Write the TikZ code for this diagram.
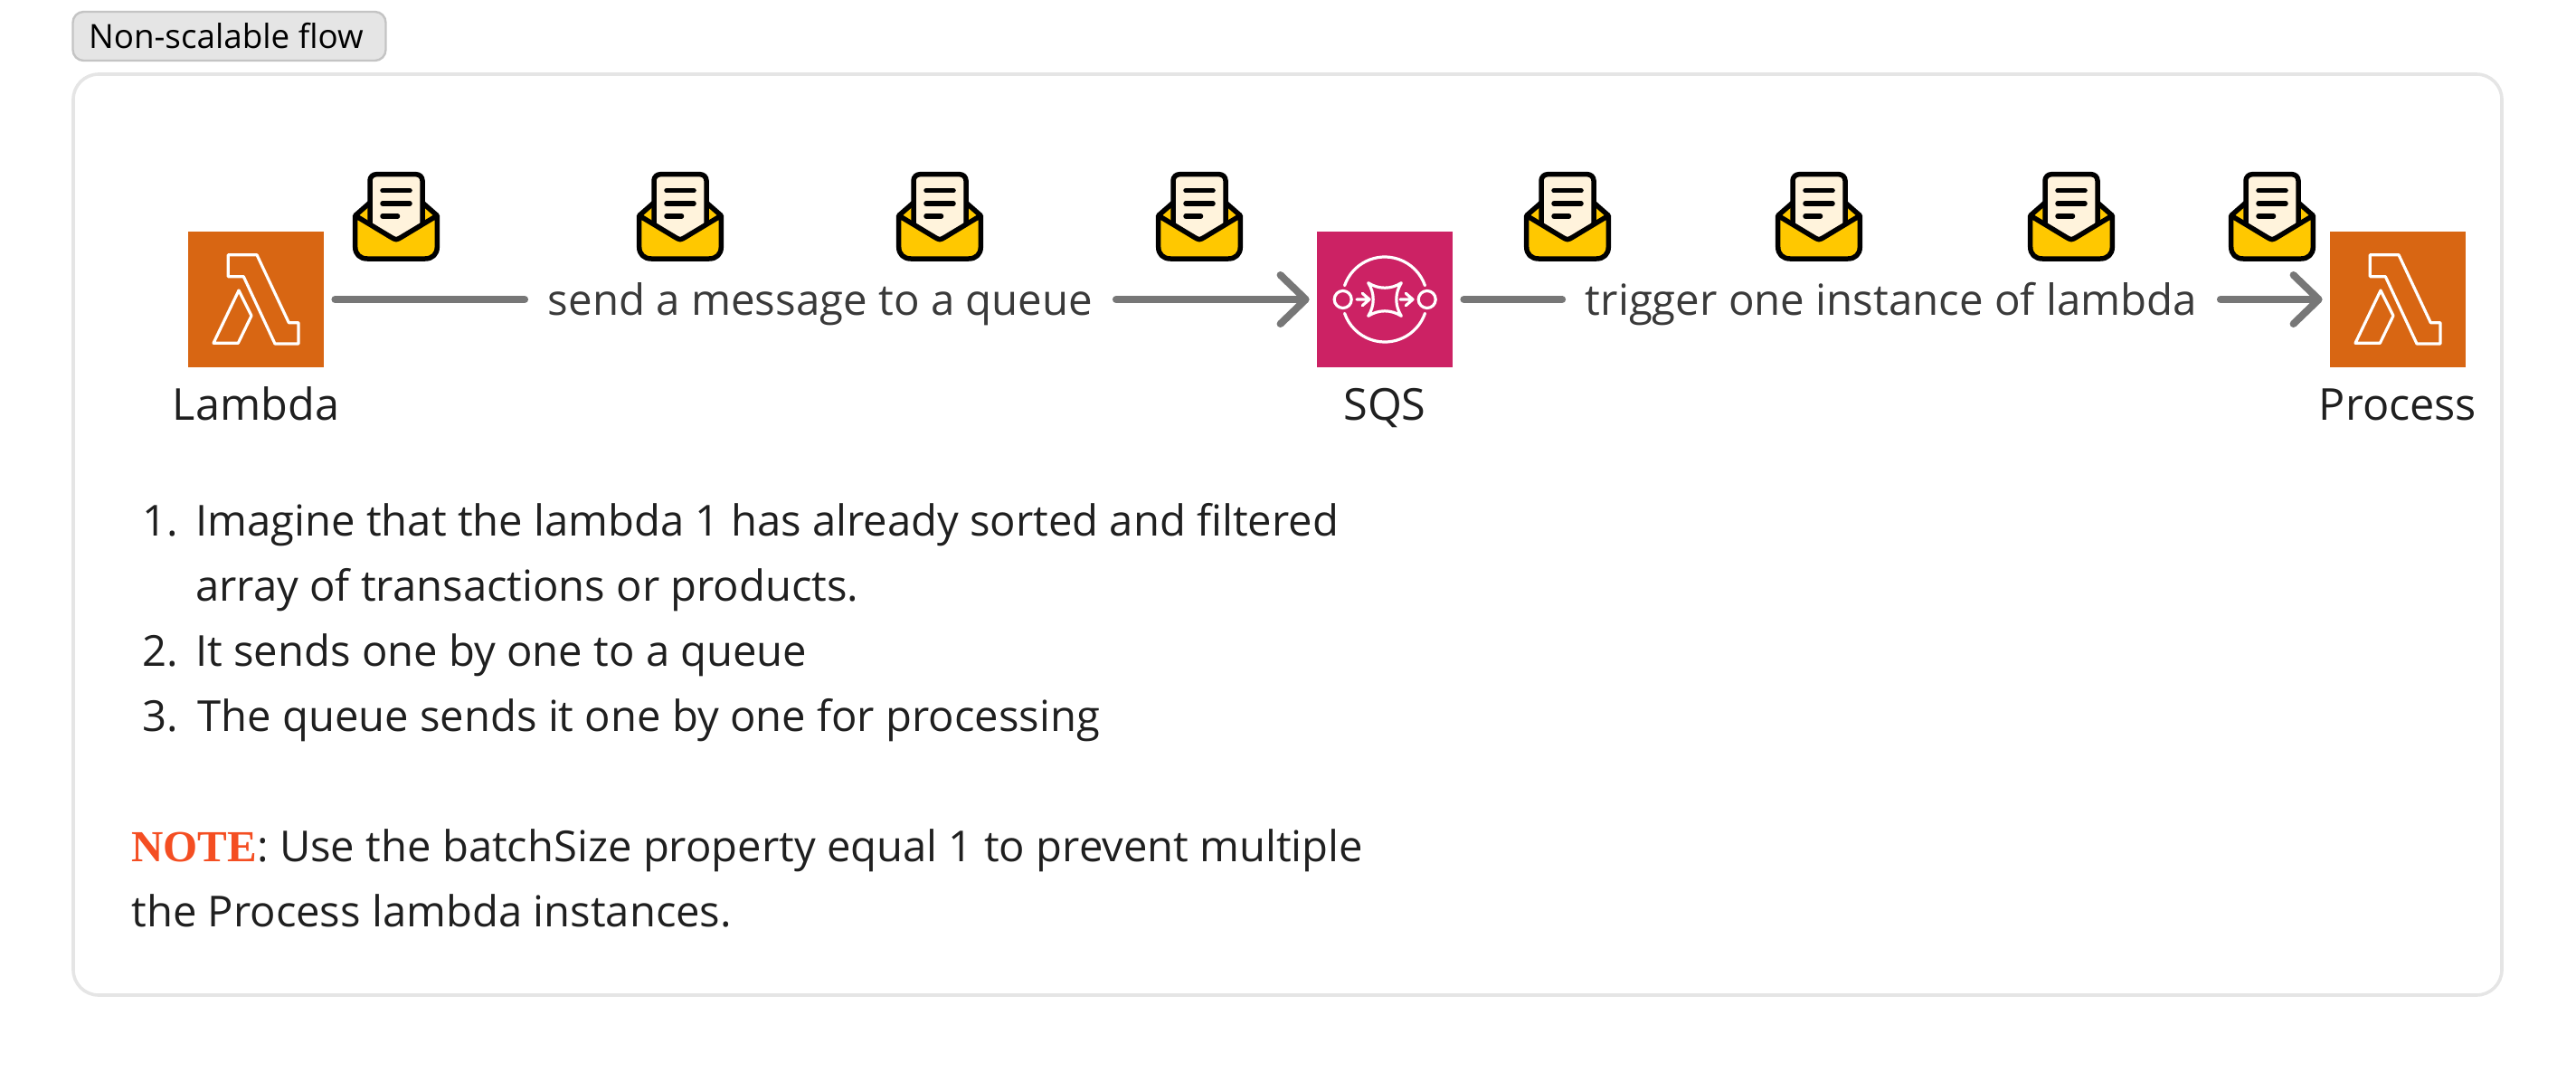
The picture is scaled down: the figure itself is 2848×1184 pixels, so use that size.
\documentclass[tikz,border=0pt]{standalone}
\usepackage{fontspec}
\setmainfont{Open Sans}
\newfontfamily\notefont{Liberation Serif}
\usetikzlibrary{arrows.meta, positioning}

\definecolor{lambdaorange}{HTML}{D86613}
\definecolor{sqspink}{HTML}{CC2264}
\definecolor{flowgray}{HTML}{777777}
\definecolor{mailyellow}{HTML}{FFC800}
\definecolor{mailpaper}{HTML}{FFF3DC}
\definecolor{notered}{HTML}{F44E22}
\definecolor{bodyink}{HTML}{1F1F1F}

\tikzset{
    mailicon/.pic = {
        % back flap
        \fill [mailyellow] (-45.3,-1.7) -- (-29,-16) -- (29,-16) -- (45.3,-1.7) -- (0,26) -- cycle;
        \draw [line width=2.75pt, line join=round]
            (-45.3,-1.7) -- (-29,-16) (29,-16) -- (45.3,-1.7);
        % paper
        \fill [mailpaper] (-29,-40) -- (29,-40) -- (29,10) -- (0,26) -- (-29,10) -- cycle;
        \draw [line width=2.75pt, fill=mailpaper, rounded corners=3.5pt]
            (-29,10) -- (-29,-47.3) -- (29,-47.3) -- (29,10);
        \draw [line width=2.75pt, line cap=round]
            (-15,-29.3) -- (15,-29.3)
            (-15,-15) -- (15,-15)
            (-15,-1) -- (1.5,-1);
        % front
        \draw [line width=2.75pt, line join=round, fill=mailyellow]
            (-45.3,-1.7) -- (-6,22) .. controls (0,25.5) .. (6,22) -- (45.3,-1.7)
            -- (45.3,33) .. controls (45.3,41) and (40,46) .. (32,46)
            -- (-32,46) .. controls (-40,46) and (-45.3,41) .. (-45.3,33) -- cycle;
    },
    lambdaicon/.pic = {
        \draw [white, line width=1.6pt, line join=round]
            (-30.7,-49.3) -- (1,-49.3) -- (36.3,25.7) -- (47,25.7) -- (47,49)
            -- (21,49) -- (-13.7,-25.3) -- (-30.7,-25.3) -- cycle
            (-19,-10) -- (-5,18) -- (-19.7,48.3) -- (-47,48.3) -- cycle;
    },
    sqsicon/.pic = {
        \draw [white, line width=1.6pt, line cap=round, line join=round]
            (199:47) arc [start angle=199, end angle=341, radius=47]
            (19:47) arc [start angle=19, end angle=161, radius=47]
            (-46.3,0) circle [radius=9.5]
            (46.7,0) circle [radius=9.5]
            (-31,0) -- (-17,0) (-24.7,-6.7) -- (-17,0) -- (-24.7,6.7)
            (17,0) -- (31,0) (23.3,-6.7) -- (31,0) -- (23.3,6.7)
            (-18.3,-18.3) .. controls (-7,-11) and (7,-11) .. (18.3,-18.3)
            .. controls (11,-7) and (11,7) .. (18.3,18.3)
            .. controls (7,11) and (-7,11) .. (-18.3,18.3)
            .. controls (-11,7) and (-11,-7) .. (-18.3,-18.3);
    }
}

\begin{document}
\begin{tikzpicture} [x=0.5pt, y=-0.5pt,
            on grid,
            service/.style = {minimum size=75pt, inner sep=0pt},
            servicename/.style = {text=bodyink, inner sep=0pt, text height=18pt, text depth=0pt,
                font=\fontsize{24.3}{29}\selectfont},
            flowtext/.style = {text=bodyink!88, inner xsep=12.7pt, inner ysep=0pt,
                text height=17pt, text depth=0pt,
                font=\fontsize{23.7}{29}\selectfont},
            flowline/.style = {flowgray, line width=4pt, line cap=round},
            flowarrow/.style = {flowline, -{Straight Barb[length=14pt, width=27pt, round]},
                shorten >=4pt},
            bodytext/.style = {text=bodyink, inner sep=0pt, anchor=base west,
                font=\fontsize{23.6}{29}\selectfont},
            itemnumber/.style = {text=bodyink, inner sep=0pt, anchor=base east,
                font=\fontsize{23.6}{29}\selectfont}]

        \useasboundingbox (0,0) rectangle (2848,1184);

        % Tag
        \node (tag) [draw=black!23, fill=black!10, line width=1.2pt, rounded corners=6pt,
            minimum width=173pt, minimum height=27pt, inner sep=0pt,
            font=\fontsize{18.4}{24}\selectfont] at (253.5,40) {Non-scalable flow\hspace*{3.6pt}};

        % Panel
        \node (panel) [draw=black!10, line width=1.8pt, rounded corners=14pt,
            minimum width=1342.5pt, minimum height=509pt] at (1423.5,591) {};

        % Lambda
        \node (lambda) [service, fill=lambdaorange] at (283,331) {};
        \pic at (lambda) {lambdaicon};
        \node (lambdaname) [servicename, below = 57.5pt of lambda] {Lambda};

        % SQS
        \node (sqs) [service, fill=sqspink, right = 624pt of lambda] {};
        \pic at (sqs) {sqsicon};
        \node (sqsname) [servicename, below = 57.5pt of sqs] {SQS};

        % Process
        \node (process) [service, fill=lambdaorange, right = 560pt of sqs] {};
        \pic at (process) {lambdaicon};
        \node (processname) [servicename, below = 57.5pt of process] {Process};

        % Arrow labels
        \node (sendtext) [flowtext, right = 312pt of lambda] {send a message to a queue};
        \node (triggertext) [flowtext, right = 280pt of sqs] {trigger one instance of lambda};

        % Arrows
        \draw [flowline, shorten <=6pt] (lambda) -- (sendtext);
        \draw [flowarrow] (sendtext) -- (sqs);
        \draw [flowline, shorten <=6pt] (sqs) -- (triggertext);
        \draw [flowarrow] (triggertext) -- (process);

        % Messages
        \foreach \mailx in {438,752,1039,1326,1733,2011,2290,2512}
            \pic at (\mailx,240) {mailicon};

        % Steps
        \node (num1) [itemnumber] at (197,592) {1.};
        \node (step1) [bodytext] at (216,592) {Imagine that the lambda 1 has already sorted and filtered};
        \node (step1b) [bodytext] at (216,664) {array of transactions or products.};
        \node (num2) [itemnumber] at (197,736) {2.};
        \node (step2) [bodytext] at (216,736) {It sends one by one to a queue};
        \node (num3) [itemnumber] at (197,808) {3.};
        \node (step3) [bodytext] at (218,808) {The queue sends it one by one for processing};

        % Note
        \node (note) [bodytext] at (145,952) {{\notefont\bfseries\fontsize{24.5}{29}\selectfont\color{notered}NOTE}: Use the batchSize property equal 1 to prevent multiple};
        \node (noteb) [bodytext] at (145,1024) {the Process lambda instances.};
\end{tikzpicture}
\end{document}
